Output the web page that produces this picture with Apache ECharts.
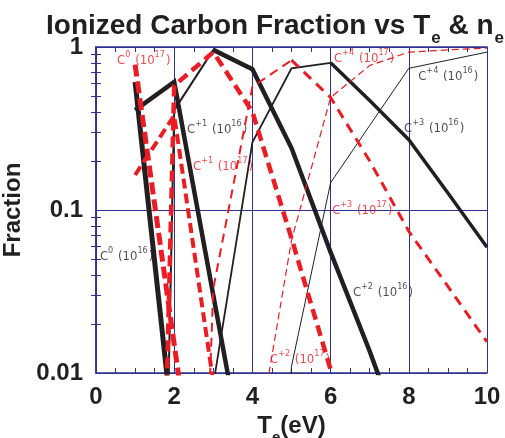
<!DOCTYPE html>
<html>
<head>
<meta charset="utf-8">
<script src="https://cdn.jsdelivr.net/npm/echarts@6.0.0/dist/echarts.min.js"></script>
<style>
html, body { margin: 0; padding: 0; background: #fff; }
#chart { width: 505px; height: 438px; }
</style>
</head>
<body>
<div id="chart"></div>
<script>
// electron temperature (eV)
var te = [1, 2, 3, 4, 5, 6, 7, 8, 9, 10];

// charge state fractions, ne = 1e16
var c0_16 = [0.61, 0.0038, null, null, null, null, null, null, null, null];
var c1_16 = [0.41, 0.61, 0.03, 0.0015, null, null, null, null, null, null];
var c2_16 = [1e-12, 0.41, 0.96, 0.73, 0.24, 0.055, 0.0136, 0.003, null, null];
var c3_16 = [null, null, 0.0085, 0.26, 0.74, 0.80, 0.47, 0.27, 0.127, 0.059];
var c4_16 = [null, null, null, 1e-6, 0.011, 0.147, 0.33, 0.74, 0.83, 0.93];

// charge state fractions, ne = 1e17
var c0_17 = [0.78, 0.015, 0.0003, null, null, null, null, null, null, null];
var c1_17 = [0.164, 0.38, 0.0088, null, null, null, null, null, null, null];
var c2_17 = [1e-10, 0.58, 0.93, 0.40, 0.067, 0.0105, null, null, null, null];
var c3_17 = [null, 1e-8, 0.033, 0.57, 0.83, 0.49, 0.2, 0.074, 0.034, 0.0155];
var c4_17 = [null, null, null, 0.0025, 0.065, 0.49, 0.77, 0.93, 0.96, 0.985];

// minor ticks on the log axis
var yMinor = [0.02, 0.03, 0.04, 0.05, 0.06, 0.07, 0.08, 0.09,
              0.2, 0.3, 0.4, 0.5, 0.6, 0.7, 0.8, 0.9];

// curve labels: ion charge, density exponent, position (left edge)
var noteIon = ['0', '+1', '+1', '0', '+2', '+2', '+3', '+3', '+4', '+4'];
var noteExp = ['17', '16', '17', '16', '17', '16', '17', '16', '17', '16'];
var noteX = [0.54, 2.33, 2.48, 0.1, 4.45, 6.57, 6.04, 7.88, 6.09, 8.24];
var noteY = [0.85, 0.32, 0.19, 0.053, 0.0125, 0.032, 0.102, 0.325, 0.87, 0.68];

var BLACK = '#231f20', RED = '#ec1c24', BLUE = '#2e3192';

var chart = echarts.init(document.getElementById('chart'));

function pts(vals, from, to) {
  var out = [];
  for (var i = from; i <= to; i++) {
    if (vals[i] != null) out.push([te[i], vals[i]]);
  }
  return out;
}

function line(vals, from, to, color, width, dash) {
  return {
    type: 'line',
    data: pts(vals, from, to),
    symbol: 'none',
    silent: true,
    clip: true,
    lineStyle: { color: color, width: width, type: dash || 'solid', join: 'miter', miterLimit: 4, cap: 'butt' }
  };
}

var series = [
  line(c0_16, 0, 9, BLACK, 5),
  line(c1_16, 0, 9, BLACK, 4.5),
  line(c2_16, 0, 2, BLACK, 2),
  line(c2_16, 2, 9, BLACK, 4.5),
  line(c3_16, 0, 5, BLACK, 1.8),
  line(c3_16, 5, 9, BLACK, 3.5),
  line(c4_16, 0, 9, BLACK, 1),
  line(c0_17, 0, 9, RED, 5, [12, 5]),
  line(c1_17, 0, 9, RED, 4, [10, 5]),
  line(c2_17, 0, 9, RED, 4.5, [11, 6]),
  line(c3_17, 0, 4, RED, 2, [9, 6]),
  line(c3_17, 4, 9, RED, 3, [10, 7]),
  line(c4_17, 0, 9, RED, 1.2, [7, 4])
];

// text labels next to the curves
var noteFont = 'DejaVu Sans Condensed, Liberation Sans, sans-serif';
series.push({
  type: 'scatter',
  symbolSize: 0,
  silent: true,
  label: {
    show: true,
    position: 'right',
    distance: 0,
    formatter: function (p) {
      var i = p.dataIndex;
      return '{m|C}{s|' + noteIon[i] + '}{m| (10}{s|' + noteExp[i] + '}{m|)}';
    }
  },
  data: noteX.map(function (x, i) {
    var c = noteExp[i] === '17' ? RED : BLACK;
    return {
      value: [x, noteY[i]],
      label: {
        rich: {
          m: { fontSize: 13, fontFamily: noteFont, color: c, verticalAlign: 'top', padding: [4, 0, 0, 0] },
          s: { fontSize: 9, fontFamily: noteFont, color: c, verticalAlign: 'top', padding: [0, 1, 0, 0] }
        }
      }
    };
  })
});

var bold = { fontFamily: 'Liberation Sans, Arial, sans-serif', fontWeight: 'bold', color: BLACK };

var option = {
  animation: false,
  title: {
    text: '{a|Ionized Carbon Fraction vs T}{b|e}{a| & n}{b|e}',
    left: 41,
    top: 7,
    textStyle: {
      rich: {
        a: { fontFamily: 'Liberation Sans', fontWeight: 'bold', fontSize: 28, color: BLACK, verticalAlign: 'top' },
        b: { fontFamily: 'Liberation Sans', fontWeight: 'bold', fontSize: 17, color: BLACK, verticalAlign: 'top', padding: [18, 0, 0, 1] }
      }
    }
  },
  grid: { left: 96, right: 18, top: 47, bottom: 65, outerBoundsMode: 'none', containLabel: false },
  xAxis: [{
    type: 'value',
    min: 0,
    max: 10,
    interval: 2,
    position: 'bottom',
    name: '{a|T}{b|e}{a|(eV)}',
    nameLocation: 'middle',
    nameGap: 34,
    nameTextStyle: {
      rich: {
        a: { fontFamily: 'Liberation Sans', fontWeight: 'bold', fontSize: 24, color: BLACK, verticalAlign: 'top' },
        b: { fontFamily: 'Liberation Sans', fontWeight: 'bold', fontSize: 15, color: BLACK, verticalAlign: 'top', padding: [16, 0, 0, 0] }
      }
    },
    axisLine: { show: true, lineStyle: { color: BLUE, width: 1.5 } },
    axisTick: { show: true, inside: true, length: 5, lineStyle: { color: BLUE } },
    minorTick: { show: true, splitNumber: 4, length: 5, lineStyle: { color: BLUE } },
    splitLine: { show: true, lineStyle: { color: BLUE, width: 1 } },
    axisLabel: Object.assign({ fontSize: 24, margin: 12 }, bold)
  }, {
    type: 'value',
    min: 0,
    max: 10,
    interval: 2,
    position: 'top',
    axisLine: { show: true, lineStyle: { color: BLUE, width: 1.5 } },
    axisTick: { show: true, inside: true, length: 5, lineStyle: { color: BLUE } },
    minorTick: { show: true, splitNumber: 4, length: 5, lineStyle: { color: BLUE } },
    splitLine: { show: false },
    axisLabel: { show: false }
  }],
  yAxis: [{
    type: 'log',
    logBase: 10,
    min: 0.01,
    max: 1,
    splitNumber: 2,
    position: 'left',
    name: 'Fraction',
    nameLocation: 'middle',
    nameGap: 64,
    nameTextStyle: Object.assign({ fontSize: 24 }, bold),
    axisLine: { show: true, lineStyle: { color: BLUE, width: 1.5 } },
    axisTick: { show: false },
    splitLine: { show: true, lineStyle: { color: BLUE, width: 1 } },
    axisLabel: Object.assign({ fontSize: 24, margin: 13 }, bold)
  }, {
    type: 'log',
    logBase: 10,
    min: 0.01,
    max: 1,
    position: 'right',
    axisLine: { show: true, lineStyle: { color: BLUE, width: 1.5 } },
    axisTick: { show: true, inside: true, length: 5, customValues: yMinor, lineStyle: { color: BLUE } },
    splitLine: { show: false },
    axisLabel: { show: false }
  }, {
    type: 'log',
    logBase: 10,
    min: 0.01,
    max: 1,
    position: 'left',
    offset: 0,
    axisLine: { show: false },
    axisTick: { show: true, inside: true, length: 5, customValues: yMinor, lineStyle: { color: BLUE } },
    splitLine: { show: false },
    axisLabel: { show: false }
  }],
  series: series
};

chart.setOption(option);
</script>
</body>
</html>
